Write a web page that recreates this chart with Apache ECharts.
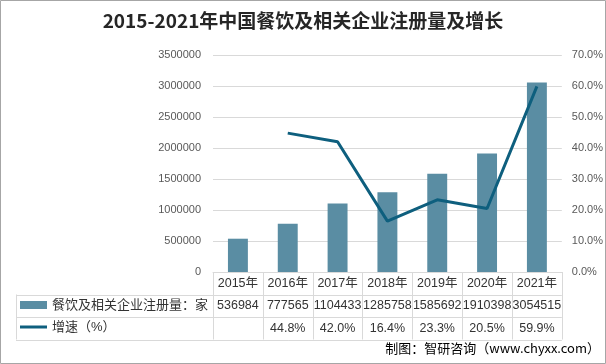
<!DOCTYPE html>
<html>
<head>
<meta charset="utf-8">
<script src="https://cdn.jsdelivr.net/npm/echarts@6/dist/echarts.min.js"></script>
<style>
html,body{margin:0;padding:0;background:#fff;}
#c{width:606px;height:364px;}
</style>
</head>
<body>
<div id="c"></div>
<script>
const categories = ['2015年','2016年','2017年','2018年','2019年','2020年','2021年'];
const registrations = [536984, 777565, 1104433, 1285758, 1585692, 1910398, 3054515];
const growthRate = [null, 44.8, 42.0, 16.4, 23.3, 20.5, 59.9];
const seriesNames = ['餐饮及相关企业注册量：家', '增速（%）'];
const titleText = '2015-2021年中国餐饮及相关企业注册量及增长';
const sourceText = '制图：智研咨询（www.chyxx.com）';

const FONT = '"Liberation Sans", "Noto Sans CJK SC", sans-serif';
const GRID = '#d9d9d9';
const chart = echarts.init(document.getElementById('c'), null, {renderer: 'canvas'});

const option = {
  backgroundColor: '#fff',
  animation: false,
  title: {
    text: titleText,
    left: 'center',
    top: 6,
    textStyle: {fontSize: 19, fontWeight: 'bold', color: '#262626', fontFamily: '"Noto Sans CJK SC", sans-serif'}
  },
  legend: {
    orient: 'vertical',
    left: 20,
    top: 298,
    padding: 0,
    itemWidth: 27,
    itemHeight: 8,
    itemGap: 8,
    selectedMode: false,
    textStyle: {fontSize: 13, color: '#333', fontFamily: FONT, lineHeight: 14},
    data: [
      {name: seriesNames[0], icon: 'rect'},
      {name: seriesNames[1], icon: 'path://M0,0 L27,0 L27,3 L0,3 Z'}
    ]
  },
  grid: {left: 213, right: 43, top: 55, bottom: 92},
  xAxis: [
    {
      type: 'category', data: categories, position: 'bottom',
      axisLine: {show: true, lineStyle: {color: GRID}},
      axisTick: {show: false},
      axisLabel: {interval: 0, margin: 5, fontSize: 12.5, color: '#333', fontFamily: FONT}
    },
    {
      type: 'category', data: categories, position: 'bottom', offset: 22.5,
      axisLine: {show: false}, axisTick: {show: false},
      axisLabel: {interval: 0, margin: 5, fontSize: 12.5, color: '#333', fontFamily: FONT,
        formatter: (v, i) => String(registrations[i])}
    },
    {
      type: 'category', data: categories, position: 'bottom', offset: 45,
      axisLine: {show: false}, axisTick: {show: false},
      axisLabel: {interval: 0, margin: 5, fontSize: 12.5, color: '#333', fontFamily: FONT,
        formatter: (v, i) => growthRate[i] == null ? '' : growthRate[i].toFixed(1) + '%'}
    }
  ],
  yAxis: [
    {
      type: 'value', min: 0, max: 3500000, interval: 500000,
      axisLine: {show: false}, axisTick: {show: false},
      axisLabel: {fontSize: 11, color: '#595959', margin: 12, fontFamily: FONT,
        formatter: v => String(v)},
      splitLine: {lineStyle: {color: GRID}}
    },
    {
      type: 'value', min: 0, max: 70, interval: 10, position: 'right',
      axisLine: {show: false}, axisTick: {show: false},
      axisLabel: {fontSize: 11, color: '#595959', margin: 10, fontFamily: FONT,
        formatter: v => v.toFixed(1) + '%'},
      splitLine: {show: false}
    }
  ],
  series: [
    {
      name: seriesNames[0], type: 'bar', data: registrations, barWidth: '40%',
      itemStyle: {color: '#5a8da3'}
    },
    {
      name: seriesNames[1], type: 'line', yAxisIndex: 1, data: growthRate,
      symbol: 'none', connectNulls: false,
      lineStyle: {color: '#0e5f7e', width: 3},
      itemStyle: {color: '#0e5f7e'}
    }
  ]
};
chart.setOption(option);

// table borders built from the axis scale
const y0 = chart.convertToPixel({yAxisIndex: 0}, 0);
const c0 = chart.convertToPixel({xAxisIndex: 0}, categories[0]);
const c1 = chart.convertToPixel({xAxisIndex: 0}, categories[1]);
const band = c1 - c0;
const xLeft = c0 - band / 2;
const xRight = chart.convertToPixel({xAxisIndex: 0}, categories[categories.length - 1]) + band / 2;
const rowH = 22.5;
const tableLeft = 16;
const lines = [];
const ls = {stroke: GRID, lineWidth: 1};
for (let r = 1; r <= 3; r++) {
  const y = Math.round(y0 + r * rowH) + 0.5;
  lines.push({type: 'line', shape: {x1: tableLeft, y1: y, x2: xRight, y2: y}, style: ls, silent: true});
}
lines.push({type: 'line', shape: {x1: tableLeft + 0.5, y1: y0 + rowH, x2: tableLeft + 0.5, y2: y0 + 3 * rowH}, style: ls, silent: true});
for (let k = 0; k <= categories.length; k++) {
  const x = Math.round(xLeft + k * band) + 0.5;
  lines.push({type: 'line', shape: {x1: x, y1: y0, x2: x, y2: y0 + 3 * rowH}, style: ls, silent: true});
}
lines.push({type: 'text', right: 6, top: 342, style: {text: sourceText, fill: '#000', font: '13px "Noto Sans CJK SC", sans-serif'}});
lines.push({type: 'rect', shape: {x: 0.5, y: 0.5, width: 605, height: 363}, style: {fill: 'none', stroke: '#a6a6a6', lineWidth: 1}, silent: true, z: 100});
chart.setOption({graphic: lines});
</script>
</body>
</html>
